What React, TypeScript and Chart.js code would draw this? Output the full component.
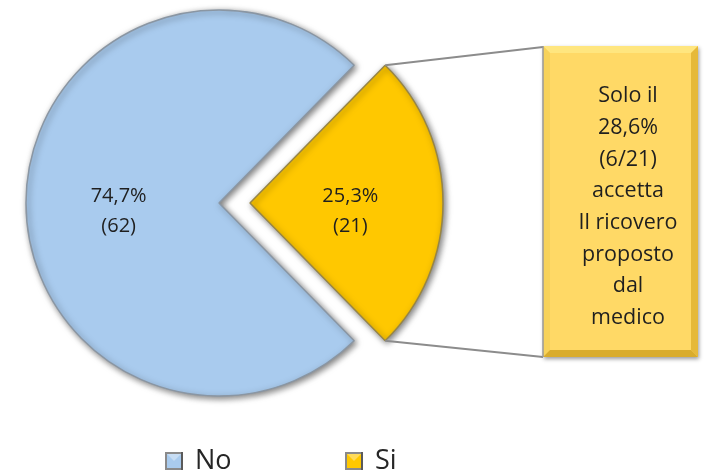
import { useEffect, useRef } from "react";
import { Chart, registerables } from "chart.js";

Chart.register(...registerables);

// ---- data ----
const categories = ["No", "Si"];
const counts = [62, 21];
const percentLabels = ["74,7%", "25,3%"];
const sliceColors = ["#A9CBEE", "#FFC800"];
const calloutLines = ["Solo il", "28,6%", "(6/21)", "accetta", "Il ricovero", "proposto", "dal", "medico"];

// ---- layout / style ----
const W = 705;
const H = 473;
const FONT = "'Open Sans', 'DejaVu Sans', sans-serif";
const PIE_RADIUS = 193;
const EXPLODE_PX = 31;
const OFFSET_DIV = 4; // Chart.js v4 translates an arc by offset / 4
const BOX = { left: 543, top: 46, right: 698, bottom: 357 };
const BOX_TEXT_X = 628;
const BOX_TEXT_Y0 = 96;
const BOX_LINE_H = 31.7;
const LEGEND_X = [165, 345];
const LEGEND_Y = 461;
const LEGEND_BOX = 18;

function arcGeom(arc: any) {
  const p = arc.getProps(["x", "y", "startAngle", "endAngle", "outerRadius"], true);
  const off = (arc.options.offset || 0) / OFFSET_DIV;
  const mid = (p.startAngle + p.endAngle) / 2;
  return { ...p, mid, cx: p.x + Math.cos(mid) * off, cy: p.y + Math.sin(mid) * off };
}

const decorPlugin = {
  id: "decor",
  beforeDatasetsDraw(chart: any) {
    const ctx = chart.ctx;
    ctx.save();
    ctx.shadowColor = "rgba(0,0,0,0.5)";
    ctx.shadowBlur = 6;
    ctx.shadowOffsetX = 2;
    ctx.shadowOffsetY = 2;
  },
  afterDatasetsDraw(chart: any) {
    const ctx = chart.ctx;
    ctx.restore();
    const meta = chart.getDatasetMeta(0);

    // slice labels
    ctx.save();
    ctx.fillStyle = "#1f1f1f";
    ctx.font = `20px ${FONT}`;
    ctx.textAlign = "center";
    ctx.textBaseline = "middle";
    meta.data.forEach((arc: any, i: number) => {
      const g = arcGeom(arc);
      const d = g.outerRadius * 0.52;
      const lx = g.cx + Math.cos(g.mid) * d;
      const ly = g.cy + Math.sin(g.mid) * d;
      ctx.fillText(percentLabels[i], lx, ly - 7);
      ctx.fillText(`(${counts[i]})`, lx, ly + 23);
    });
    ctx.restore();

    // connector lines from the exploded slice to the callout box
    const g = arcGeom(meta.data[1]);
    const topX = g.cx + Math.cos(g.startAngle) * g.outerRadius;
    const topY = g.cy + Math.sin(g.startAngle) * g.outerRadius;
    const botX = g.cx + Math.cos(g.endAngle) * g.outerRadius;
    const botY = g.cy + Math.sin(g.endAngle) * g.outerRadius;
    ctx.save();
    ctx.strokeStyle = "#8c8c8c";
    ctx.lineWidth = 2;
    ctx.beginPath();
    ctx.moveTo(topX, topY);
    ctx.lineTo(BOX.left, BOX.top + 1);
    ctx.moveTo(botX, botY);
    ctx.lineTo(BOX.left, BOX.bottom);
    ctx.stroke();
    ctx.restore();

    // callout box with bevel
    const { left: l, top: t, right: r, bottom: b } = BOX;
    const bv = 7;
    ctx.save();
    ctx.shadowColor = "rgba(0,0,0,0.4)";
    ctx.shadowBlur = 4;
    ctx.shadowOffsetX = 1;
    ctx.shadowOffsetY = 2;
    ctx.fillStyle = "#FFD966";
    ctx.fillRect(l, t, r - l, b - t);
    ctx.restore();
    const quad = (pts: number[][], color: string) => {
      ctx.beginPath();
      ctx.moveTo(pts[0][0], pts[0][1]);
      for (let k = 1; k < pts.length; k++) ctx.lineTo(pts[k][0], pts[k][1]);
      ctx.closePath();
      ctx.fillStyle = color;
      ctx.fill();
    };
    quad([[l, t], [r, t], [r - bv, t + bv], [l + bv, t + bv]], "#FFE67F");
    quad([[l, t], [l + bv, t + bv], [l + bv, b - bv], [l, b]], "#F7D25A");
    quad([[r, t], [r, b], [r - bv, b - bv], [r - bv, t + bv]], "#E6B93A");
    quad([[l, b], [l + bv, b - bv], [r - bv, b - bv], [r, b]], "#D9AC2C");
    ctx.strokeStyle = "#9a9a9a";
    ctx.lineWidth = 1.5;
    ctx.beginPath();
    ctx.moveTo(l, t);
    ctx.lineTo(l, b);
    ctx.stroke();

    ctx.fillStyle = "#1f1f1f";
    ctx.font = `21.5px ${FONT}`;
    ctx.textAlign = "center";
    ctx.textBaseline = "middle";
    calloutLines.forEach((line, k) => {
      ctx.fillText(line, BOX_TEXT_X, BOX_TEXT_Y0 + k * BOX_LINE_H);
    });

    // legend
    ctx.font = `27px ${FONT}`;
    ctx.textAlign = "left";
    ctx.textBaseline = "middle";
    categories.forEach((cat, i) => {
      const x = LEGEND_X[i];
      const y = LEGEND_Y - LEGEND_BOX / 2;
      const s = LEGEND_BOX;
      ctx.fillStyle = "#8a8a8a";
      ctx.fillRect(x, y, s, s);
      ctx.fillStyle = sliceColors[i];
      ctx.fillRect(x + 2, y + 2, s - 4, s - 4);
      ctx.fillStyle = "rgba(255,255,255,0.35)";
      ctx.beginPath();
      ctx.moveTo(x + 2, y + 2);
      ctx.lineTo(x + s - 2, y + 2);
      ctx.lineTo(x + s / 2, y + s / 2);
      ctx.closePath();
      ctx.fill();
      ctx.fillStyle = "#5a5a5a";
      ctx.fillRect(x + s - 2, y, 2, s);
      ctx.fillStyle = "#262626";
      ctx.fillText(cat, x + s + 12, LEGEND_Y);
    });
    ctx.restore();
  },
};

export default function App() {
  const ref = useRef<HTMLCanvasElement | null>(null);

  useEffect(() => {
    if (!ref.current) return;
    const cx = 219;
    const cy = 203;
    const chart = new Chart(ref.current, {
      type: "pie",
      data: {
        labels: categories,
        datasets: [
          {
            data: counts,
            backgroundColor: sliceColors,
            borderColor: ["#8a96a3", "#978545"],
            borderWidth: 1.5,
            offset: [0, EXPLODE_PX * OFFSET_DIV],
            hoverOffset: 0,
          },
        ],
      },
      options: {
        responsive: false,
        maintainAspectRatio: false,
        animation: false,
        events: [],
        rotation: 90 + (counts[1] / (counts[0] + counts[1])) * 180,
        radius: PIE_RADIUS,
        layout: {
          padding: { left: 0, top: 0, right: W - 2 * cx, bottom: H - 2 * cy },
        },
        plugins: {
          legend: { display: false },
          tooltip: { enabled: false },
          title: { display: false },
        },
      },
      plugins: [decorPlugin],
    });
    return () => chart.destroy();
  }, []);

  return (
    <div style={{ position: "absolute", left: 0, top: 0, width: W, height: H, background: "#fff" }}>
      <canvas ref={ref} width={W} height={H} style={{ display: "block" }} />
    </div>
  );
}
